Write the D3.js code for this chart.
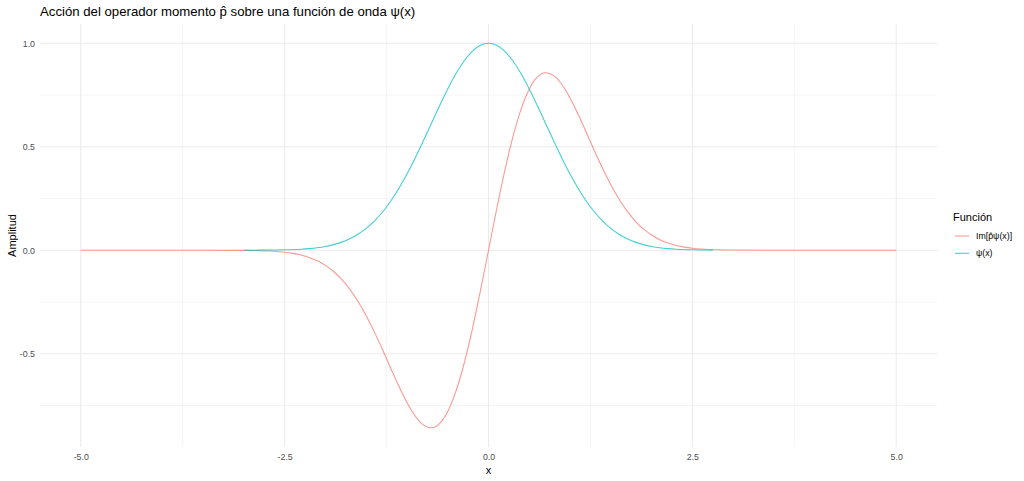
<!DOCTYPE html>
<html><head><meta charset="utf-8">
<script src="https://cdn.jsdelivr.net/npm/d3@7/dist/d3.min.js"></script>
<style>body{margin:0;background:#fff;} svg{display:block;font-family:"Liberation Sans",Arial,sans-serif;}</style>
</head><body>
<svg id="c" width="1024" height="481"></svg>
<script>
// Data
const xIm = [-5.0,-4.5,-4.0,-3.5,-3.0,-2.9,-2.8,-2.7,-2.6,-2.5,-2.4,-2.3,-2.2,-2.1,-2.0,-1.9,-1.8,-1.7,-1.6,-1.5,-1.4,-1.3,-1.2,-1.1,-1.0,-0.9,-0.8,-0.7,-0.6,-0.5,-0.4,-0.3,-0.2,-0.1,0.0,0.1,0.2,0.3,0.4,0.5,0.6,0.7,0.8,0.9,1.0,1.1,1.2,1.3,1.4,1.5,1.6,1.7,1.8,1.9,2.0,2.1,2.2,2.3,2.4,2.5,2.6,2.7,2.8,2.9,3.0,3.5,4.0,4.5,5.0];
const imVals = [0,0,0,-0.00003,-0.00074,-0.00128,-0.00218,-0.00367,-0.00603,-0.00965,-0.01512,-0.02318,-0.03480,-0.05107,-0.07326,-0.10279,-0.14098,-0.18897,-0.24736,-0.31620,-0.39441,-0.47975,-0.56863,-0.65604,-0.73576,-0.80075,-0.84366,-0.85768,-0.83722,-0.77880,-0.68171,-0.54836,-0.38432,-0.19801,0,0.19801,0.38432,0.54836,0.68171,0.77880,0.83722,0.85768,0.84366,0.80075,0.73576,0.65604,0.56863,0.47975,0.39441,0.31620,0.24736,0.18897,0.14098,0.10279,0.07326,0.05107,0.03480,0.02318,0.01512,0.00965,0.00603,0.00367,0.00218,0.00128,0.00074,0.00003,0,0,0];
const xPsi = [-3.0,-2.9,-2.8,-2.7,-2.6,-2.5,-2.4,-2.3,-2.2,-2.1,-2.0,-1.9,-1.8,-1.7,-1.6,-1.5,-1.4,-1.3,-1.2,-1.1,-1.0,-0.9,-0.8,-0.7,-0.6,-0.5,-0.4,-0.3,-0.2,-0.1,0.0,0.1,0.2,0.3,0.4,0.5,0.6,0.7,0.8,0.9,1.0,1.1,1.2,1.3,1.4,1.5,1.6,1.7,1.8,1.9,2.0,2.1,2.2,2.3,2.4,2.5,2.6,2.7,2.75];
const psiVals = [0.00012,0.00022,0.00039,0.00068,0.00116,0.00193,0.00315,0.00504,0.00791,0.01216,0.01832,0.02705,0.03916,0.05558,0.07730,0.10540,0.14086,0.18452,0.23693,0.29820,0.36788,0.44486,0.52729,0.61263,0.69768,0.77880,0.85214,0.91393,0.96079,0.99005,1,0.99005,0.96079,0.91393,0.85214,0.77880,0.69768,0.61263,0.52729,0.44486,0.36788,0.29820,0.23693,0.18452,0.14086,0.10540,0.07730,0.05558,0.03916,0.02705,0.01832,0.01216,0.00791,0.00504,0.00315,0.00193,0.00116,0.00068,0.00052];
const seriesNames = ["Im[p̂ψ(x)]","ψ(x)"];
const seriesColors = ["#F8766D","#00BFC4"];
const xTicks = [-5,-2.5,0,2.5,5];
const xMinor = [-3.75,-1.25,1.25,3.75];
const yTicks = [-0.5,0,0.5,1.0];
const yMinor = [-0.75,-0.25,0.25,0.75];
const titleText = "Acción del operador momento p̂ sobre una función de onda ψ(x)";

const svg = d3.select("#c");
const L = 40, R = 937, T = 24, B = 447;
const x = d3.scaleLinear().domain([-5.5,5.5]).range([L,R]);
const yMin = -0.85768, yMax = 1.0, ex = (yMax-yMin)*0.05;
const y = d3.scaleLinear().domain([yMin-ex, yMax+ex]).range([B,T]);

const grid = svg.append("g");
xMinor.forEach(v=>grid.append("line").attr("x1",x(v)).attr("x2",x(v)).attr("y1",T).attr("y2",B).attr("stroke","#EBEBEB").attr("stroke-width",0.55));
yMinor.forEach(v=>grid.append("line").attr("x1",L).attr("x2",R).attr("y1",y(v)).attr("y2",y(v)).attr("stroke","#EBEBEB").attr("stroke-width",0.55));
xTicks.forEach(v=>grid.append("line").attr("x1",x(v)).attr("x2",x(v)).attr("y1",T).attr("y2",B).attr("stroke","#EBEBEB").attr("stroke-width",1.07));
yTicks.forEach(v=>grid.append("line").attr("x1",L).attr("x2",R).attr("y1",y(v)).attr("y2",y(v)).attr("stroke","#EBEBEB").attr("stroke-width",1.07));

const line = d3.line().curve(d3.curveMonotoneX).x(d=>x(d[0])).y(d=>y(d[1]));
const imData = xIm.map((v,i)=>[v,imVals[i]]);
const psiData = xPsi.map((v,i)=>[v,psiVals[i]]);
[imData, psiData].forEach((d,i)=>{
  svg.append("path").datum(d).attr("d",line).attr("fill","none")
    .attr("stroke",seriesColors[i]).attr("stroke-width",1.07).attr("stroke-opacity",0.75);
});

// axes
const fmt = v => d3.format(".1f")(v).replace("\u2212","-");
const xa = svg.append("g").attr("transform",`translate(0,${B})`).call(d3.axisBottom(x).tickValues(xTicks).tickFormat(fmt).tickSize(0).tickPadding(7));
xa.select(".domain").remove();
xa.selectAll("text").attr("fill","#4D4D4D").attr("font-size","8.8px").attr("font-family","Liberation Sans, Arial, sans-serif");
const ya = svg.append("g").attr("transform",`translate(${L},0)`).call(d3.axisLeft(y).tickValues(yTicks).tickFormat(fmt).tickSize(0).tickPadding(5));
ya.select(".domain").remove();
ya.selectAll("text").attr("fill","#4D4D4D").attr("font-size","8.8px").attr("font-family","Liberation Sans, Arial, sans-serif");

svg.append("text").attr("x",(L+R)/2).attr("y",474).attr("text-anchor","middle").attr("font-size","11px").attr("fill","#000").text("x");
svg.append("text").attr("transform",`translate(16,${(T+B)/2}) rotate(-90)`).attr("text-anchor","middle").attr("font-size","11px").attr("fill","#000").text("Amplitud");
svg.append("text").attr("x",L).attr("y",16).attr("font-size","13.2px").attr("fill","#000").text(titleText);

// legend
const lg = svg.append("g");
lg.append("text").attr("x",953).attr("y",221).attr("font-size","11px").attr("fill","#000").text("Función");
seriesNames.forEach((n,i)=>{
  const cy = 236 + i*17.3;
  lg.append("line").attr("x1",955).attr("x2",969).attr("y1",cy).attr("y2",cy).attr("stroke",seriesColors[i]).attr("stroke-width",1.07).attr("stroke-opacity",0.75);
  lg.append("text").attr("x",976).attr("y",cy+3).attr("font-size","8.8px").attr("fill","#000").text(n);
});
</script>
</body></html>
